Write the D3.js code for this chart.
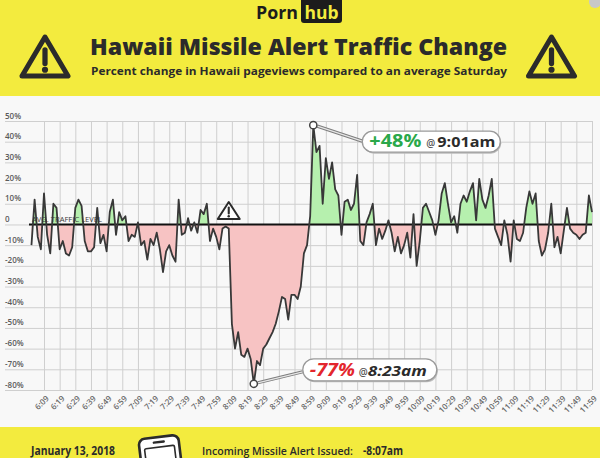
<!DOCTYPE html>
<html>
<head>
<meta charset="utf-8">
<script src="https://cdn.jsdelivr.net/npm/d3@7"></script>
<style>
  body { margin: 0; background: #fff; }
  svg { display: block; font-family: "Open Sans", sans-serif; }
</style>
</head>
<body>
<svg id="chart" width="600" height="458"></svg>
<script>
// --- dati ---
var xTickLabels = ["6:09", "6:19", "6:29", "6:39", "6:49", "6:59", "7:09", "7:19", "7:29", "7:39",
                   "7:49", "7:59", "8:09", "8:19", "8:29", "8:39", "8:49", "8:59", "9:09", "9:19",
                   "9:29", "9:39", "9:49", "9:59", "10:09", "10:19", "10:29", "10:39", "10:49", "10:59",
                   "11:09", "11:19", "11:29", "11:39", "11:49", "11:59"];
var yTickValues = [50, 40, 30, 20, 10, 0, -10, -20, -30, -40, -50, -60, -70, -80];
var yTickLabels = ["50%", "40%", "30%", "20%", "10%", "0", "-10%", "-20%", "-30%", "-40%",
                   "-50%", "-60%", "-70%", "-80%"];

// una lettura ogni 2 minuti, dalle 6:01 alle 11:59 (percentuale vs sabato medio)
var firstReading = "6:01";
var stepMinutes = 2;
var trafficChange = [
  -10, 12, -6, -12, 15, -5, -14, 10, 8, -12,
  -8, -14, -15, -11, 8, 12, 9, -8, -13, -13,
  -11, 8, -9, -5, -13, 6, 12, -5, 6, 2,
  4, -8, -5, -6, 1, -10, -8, -17, -7, -10,
  -4, -12, -23, -13, -10, -15, -18, 12, -5, -4,
  3, -3, 1, -4, 7, 5, 10, -8, -2, -6,
  -12, -2, -1, -2, -48, -60, -52, -63, -64, -60,
  -65, -77, -66, -68, -60, -58, -55, -52, -48, -42,
  -35, -36, -46, -34, -34, -36, -30, -14, -10, 4,
  48, 35, 38, 10, 32, 22, 30, 17, 14, -5,
  11, 12, 7, 10, 24, -8, -10, 1, 5, 10,
  -10, -2, -7, -3, 2, -4, -13, -6, -14, -10,
  -4, -16, 5, -20, -8, 8, 10, 6, 2, -5,
  2, 15, 20, 10, 1, 4, -4, 10, 14, 11,
  16, 20, 2, 22, 12, 8, 14, 22, -2, -6,
  -10, 2, -5, -18, 2, -7, -8, -4, 8, 16,
  10, 15, -8, -15, -12, -4, 10, -11, -6, -14,
  -3, 8, -2, -4, -5, -7, -5, -4, 14, 6
];

var alertTime = "8:07";
var lowPoint = { time: "8:23", value: -77, label: "-77%", at: "8:23am" };
var highPoint = { time: "9:01", value: 48, label: "+48%", at: "9:01am" };

var yellow = "#f3eb3e";
var ink = "#2b2b2b";

function toMinutes(s) {
  var p = s.split(":");
  return +p[0] * 60 + +p[1];
}

var start = toMinutes(firstReading);
var series = trafficChange.map(function(v, i) {
  return { t: start + i * stepMinutes, v: v };
});
var xTickMinutes = xTickLabels.map(toMinutes);

// --- scale ---
var plotTop = 121, plotBottom = 390, plotLeft = 5, plotRight = 592;
var x = d3.scaleLinear()
  .domain([xTickMinutes[0], xTickMinutes[xTickMinutes.length - 1]])
  .range([44, 592]);
var y = d3.scaleLinear().domain([-80, 50]).range([plotBottom, plotTop]);

var svg = d3.select("#chart");

// sfondi
svg.append("rect").attr("width", 600).attr("height", 458).attr("fill", "#f8f8f8");
svg.append("rect").attr("width", 600).attr("height", 96).attr("fill", yellow);
svg.append("rect").attr("y", 427).attr("width", 600).attr("height", 31).attr("fill", yellow);

// icona in alto a destra
svg.append("circle").attr("cx", 595).attr("cy", 2).attr("r", 6).attr("fill", "#c8c8c8");

// --- intestazione ---
svg.append("text")
  .attr("x", 298).attr("y", 19)
  .attr("text-anchor", "end")
  .attr("textLength", 42).attr("lengthAdjust", "spacingAndGlyphs")
  .style("font-size", "18px").style("font-weight", 700).style("fill", "#1c1c1c")
  .text("Porn");
svg.append("rect")
  .attr("x", 301).attr("y", -4).attr("width", 41).attr("height", 27).attr("rx", 3)
  .attr("fill", "#1c1c1c");
svg.append("text")
  .attr("x", 321.5).attr("y", 19)
  .attr("text-anchor", "middle")
  .attr("textLength", 34).attr("lengthAdjust", "spacingAndGlyphs")
  .style("font-size", "18px").style("font-weight", 700).style("fill", yellow)
  .text("hub");

svg.append("text")
  .attr("x", 298.5).attr("y", 55)
  .attr("text-anchor", "middle")
  .attr("textLength", 417).attr("lengthAdjust", "spacingAndGlyphs")
  .style("font-size", "23px").style("font-weight", 800).style("fill", ink)
  .text("Hawaii Missile Alert Traffic Change");
svg.append("text")
  .attr("x", 299).attr("y", 75)
  .attr("text-anchor", "middle")
  .attr("textLength", 416).attr("lengthAdjust", "spacingAndGlyphs")
  .style("font-size", "11px").style("font-weight", 700).style("fill", ink)
  .text("Percent change in Hawaii pageviews compared to an average Saturday");

// triangolo di pericolo (cx, top, larghezza, altezza, spessore)
function warning(cx, top, w, h, sw, fill) {
  var g = svg.append("g");
  g.append("path")
    .attr("d", "M" + cx + "," + top + "L" + (cx + w / 2) + "," + (top + h) +
               "L" + (cx - w / 2) + "," + (top + h) + "Z")
    .attr("fill", fill).attr("stroke", ink)
    .attr("stroke-width", sw).attr("stroke-linejoin", "round");
  g.append("line")
    .attr("x1", cx).attr("x2", cx)
    .attr("y1", top + h * 0.33).attr("y2", top + h * 0.68)
    .attr("stroke", ink).attr("stroke-width", sw * 1.05).attr("stroke-linecap", "round");
  g.append("circle")
    .attr("cx", cx).attr("cy", top + h * 0.84).attr("r", sw * 0.62)
    .attr("fill", ink);
}
warning(45, 37, 46, 39, 5, "none");
warning(551.5, 37, 46, 39, 5, "none");

// --- griglia ---
svg.append("g")
  .attr("transform", "translate(0," + plotBottom + ")")
  .call(d3.axisBottom(x).tickValues(xTickMinutes).tickSize(-(plotBottom - plotTop)).tickFormat(""))
  .call(function(g) { g.select(".domain").remove(); })
  .selectAll("line").attr("stroke", "#cfcfcf");

svg.append("g")
  .attr("transform", "translate(" + plotLeft + ",0)")
  .call(d3.axisLeft(y).tickValues(yTickValues).tickSize(-(plotRight - plotLeft)).tickFormat(""))
  .call(function(g) { g.select(".domain").remove(); })
  .selectAll("line").attr("stroke", "#cfcfcf");

// etichette asse y (sopra le linee)
var yAxis = svg.append("g")
  .call(d3.axisLeft(y).tickValues(yTickValues).tickSize(0)
    .tickFormat(function(d, i) { return yTickLabels[i]; }));
yAxis.select(".domain").remove();
yAxis.selectAll("text")
  .attr("x", 5).attr("dy", -3)
  .attr("text-anchor", "start")
  .style("font-family", "Open Sans").style("font-size", "8px")
  .style("font-weight", 600).style("fill", "#5a5a5a");

// etichette asse x ruotate
var xAxis = svg.append("g")
  .attr("transform", "translate(0,396)")
  .call(d3.axisBottom(x).tickValues(xTickMinutes).tickSize(0)
    .tickFormat(function(d, i) { return xTickLabels[i]; }));
xAxis.select(".domain").remove();
xAxis.selectAll("text")
  .attr("y", 0).attr("dy", "0.35em")
  .attr("text-anchor", "end")
  .attr("transform", "translate(3,1) rotate(-45)")
  .style("font-family", "Open Sans").style("font-size", "8px")
  .style("font-weight", 600).style("fill", "#6a6a6a");

// --- aree sopra/sotto la media ---
var defs = svg.append("defs");
defs.append("clipPath").attr("id", "sopra")
  .append("rect").attr("x", 0).attr("y", 0).attr("width", 600).attr("height", y(0));
defs.append("clipPath").attr("id", "sotto")
  .append("rect").attr("x", 0).attr("y", y(0)).attr("width", 600).attr("height", 458 - y(0));

var area = d3.area()
  .x(function(d) { return x(d.t); })
  .y0(y(0))
  .y1(function(d) { return y(d.v); });
var line = d3.line()
  .x(function(d) { return x(d.t); })
  .y(function(d) { return y(d.v); });

svg.append("path").datum(series)
  .attr("d", area).attr("fill", "#b6f0ae").attr("clip-path", "url(#sopra)");
svg.append("path").datum(series)
  .attr("d", area).attr("fill", "#f7c3c3").attr("clip-path", "url(#sotto)");

// linea media
svg.append("line")
  .attr("x1", 29).attr("x2", plotRight)
  .attr("y1", y(0)).attr("y2", y(0))
  .attr("stroke", "#111").attr("stroke-width", 2);

svg.append("text")
  .attr("x", 32).attr("y", y(0) - 2)
  .attr("textLength", 70).attr("lengthAdjust", "spacingAndGlyphs")
  .style("font-size", "7px").style("fill", "#3a3a3a")
  .text("AVG. TRAFFIC LEVEL");

svg.append("path").datum(series)
  .attr("d", line)
  .attr("fill", "none").attr("stroke", "#383838")
  .attr("stroke-width", 1.8).attr("stroke-linejoin", "round");

// triangolo all'ora dell'allerta
warning(x(toMinutes(alertTime)), 202, 22, 17, 2, "#fff");

// --- annotazioni min / max ---
function leader(x1, y1, x2, y2) {
  svg.append("line").attr("x1", x1).attr("y1", y1).attr("x2", x2).attr("y2", y2)
    .attr("stroke", "#7d7d7d").attr("stroke-width", 3.2);
  svg.append("line").attr("x1", x1).attr("y1", y1).attr("x2", x2).attr("y2", y2)
    .attr("stroke", "#e6e6e6").attr("stroke-width", 1.2);
}
function marker(px, py) {
  svg.append("circle").attr("cx", px).attr("cy", py).attr("r", 3.6)
    .attr("fill", "#fff").attr("stroke", "#444").attr("stroke-width", 1.5);
}
function pill(bx, by, bw, bh) {
  svg.append("rect").attr("x", bx + 1).attr("y", by + 1.5).attr("width", bw).attr("height", bh)
    .attr("rx", bh / 2).attr("fill", "#bdbdbd");
  svg.append("rect").attr("x", bx).attr("y", by).attr("width", bw).attr("height", bh)
    .attr("rx", bh / 2).attr("fill", "#fff").attr("stroke", "#9a9a9a").attr("stroke-width", 1.3);
}
function label(tx, ty, str, size, len, color, italic) {
  svg.append("text").attr("x", tx).attr("y", ty)
    .attr("textLength", len).attr("lengthAdjust", "spacingAndGlyphs")
    .style("font-size", size + "px").style("font-weight", 700)
    .style("font-style", italic ? "italic" : "normal")
    .style("fill", color).text(str);
}

// minimo
var lx = x(toMinutes(lowPoint.time)), ly = y(lowPoint.value);
leader(lx + 4, ly - 1, lx + 49, ly - 12);
pill(lx + 49, ly - 25, 134, 22);
marker(lx, ly);
label(lx + 56, ly - 8, lowPoint.label, 17, 45, "#e3262d", true);
svg.append("text").attr("x", lx + 105).attr("y", ly - 8)
  .style("font-size", "10px").style("font-weight", 600).style("fill", "#555").text("@");
label(lx + 114, ly - 8, lowPoint.at, 13.5, 59, ink, true);

// massimo
var hx = x(toMinutes(highPoint.time)), hy = y(highPoint.value);
leader(hx + 4, hy + 1, hx + 49, hy + 16);
pill(hx + 49, hy + 6, 138, 21);
marker(hx, hy);
label(hx + 56, hy + 22, highPoint.label, 17, 52, "#2aa84a", false);
svg.append("text").attr("x", hx + 113).attr("y", hy + 22)
  .style("font-size", "10px").style("font-weight", 600).style("fill", "#555").text("@");
label(hx + 124, hy + 22, highPoint.at, 13.5, 58, ink, false);

// --- piè di pagina ---
svg.append("text")
  .attr("x", 31).attr("y", 455)
  .attr("textLength", 84).attr("lengthAdjust", "spacingAndGlyphs")
  .style("font-size", "11.5px").style("font-weight", 700).style("fill", ink)
  .text("January 13, 2018");

// telefono
var phone = svg.append("g").attr("transform", "translate(160,452) rotate(-7)");
phone.append("rect").attr("x", -20).attr("y", -15).attr("width", 40).attr("height", 40).attr("rx", 6)
  .attr("fill", "#fff").attr("stroke", ink).attr("stroke-width", 2.6);
phone.append("rect").attr("x", -15).attr("y", -5).attr("width", 30).attr("height", 30).attr("rx", 1.5)
  .attr("fill", "#fff").attr("stroke", ink).attr("stroke-width", 1.6);
phone.append("line").attr("x1", -5).attr("x2", 5).attr("y1", -10).attr("y2", -10)
  .attr("stroke", ink).attr("stroke-width", 2.4).attr("stroke-linecap", "round");

svg.append("text")
  .attr("x", 202).attr("y", 455)
  .attr("textLength", 151).attr("lengthAdjust", "spacingAndGlyphs")
  .style("font-size", "11.5px").style("font-weight", 600).style("fill", ink)
  .text("Incoming Missile Alert Issued:");
svg.append("text")
  .attr("x", 363).attr("y", 455)
  .attr("textLength", 40).attr("lengthAdjust", "spacingAndGlyphs")
  .style("font-size", "11.5px").style("font-weight", 700).style("fill", ink)
  .text("-8:07am");
</script>
</body>
</html>
